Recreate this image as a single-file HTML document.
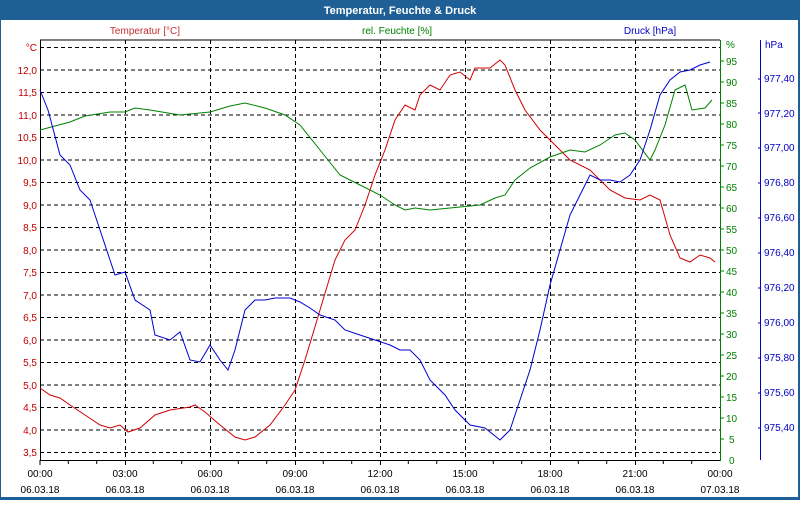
<!DOCTYPE html>
<html><head><meta charset="utf-8"><style>
body{margin:0;width:800px;height:500px;overflow:hidden;background:#fff;font-family:"Liberation Sans",sans-serif}
</style></head><body>
<svg width="800" height="500" xmlns="http://www.w3.org/2000/svg" font-family="Liberation Sans, sans-serif" font-size="10">
<rect x="0" y="0" width="800" height="500" fill="#1e5f96"/>
<rect x="1" y="20" width="797" height="477" fill="#fff"/>
<text x="400" y="14" fill="#fff" font-weight="bold" font-size="11" text-anchor="middle">Temperatur, Feuchte &amp; Druck</text>
<text x="145" y="34" fill="#c03030" text-anchor="middle">Temperatur [°C]</text>
<text x="397" y="34" fill="#008000" text-anchor="middle">rel. Feuchte [%]</text>
<text x="650" y="34" fill="#0000c0" text-anchor="middle">Druck [hPa]</text>
<g stroke="#000" stroke-dasharray="4,3" stroke-width="1">
<line x1="40" y1="47.5" x2="720" y2="47.5"/><line x1="40" y1="70" x2="720" y2="70"/><line x1="40" y1="92.5" x2="720" y2="92.5"/><line x1="40" y1="115" x2="720" y2="115"/><line x1="40" y1="137.5" x2="720" y2="137.5"/><line x1="40" y1="160" x2="720" y2="160"/><line x1="40" y1="182.5" x2="720" y2="182.5"/><line x1="40" y1="205" x2="720" y2="205"/><line x1="40" y1="227.5" x2="720" y2="227.5"/><line x1="40" y1="250" x2="720" y2="250"/><line x1="40" y1="272.5" x2="720" y2="272.5"/><line x1="40" y1="295" x2="720" y2="295"/><line x1="40" y1="317.5" x2="720" y2="317.5"/><line x1="40" y1="340" x2="720" y2="340"/><line x1="40" y1="362.5" x2="720" y2="362.5"/><line x1="40" y1="385" x2="720" y2="385"/><line x1="40" y1="407.5" x2="720" y2="407.5"/><line x1="40" y1="430" x2="720" y2="430"/><line x1="40" y1="452.5" x2="720" y2="452.5"/>
<line x1="125.5" y1="40" x2="125.5" y2="460"/><line x1="210.5" y1="40" x2="210.5" y2="460"/><line x1="295.5" y1="40" x2="295.5" y2="460"/><line x1="380.5" y1="40" x2="380.5" y2="460"/><line x1="465.5" y1="40" x2="465.5" y2="460"/><line x1="550.5" y1="40" x2="550.5" y2="460"/><line x1="635.5" y1="40" x2="635.5" y2="460"/>
</g>
<line x1="40" y1="40" x2="720" y2="40" stroke="#000"/>
<line x1="40.5" y1="40" x2="40.5" y2="460" stroke="#000"/>
<line x1="40" y1="460.5" x2="720" y2="460.5" stroke="#000"/>
<line x1="720.5" y1="40" x2="720.5" y2="461" stroke="#008000"/>
<line x1="760.5" y1="40" x2="760.5" y2="460" stroke="#0000c0"/>
<g stroke="#000">
<path d="M40 460v5M68.3 460v4M96.7 460v4M125.5 460v5M153.3 460v4M181.7 460v4M210.5 460v5M238.3 460v4M266.7 460v4M295.5 460v5M323.3 460v4M351.7 460v4M380.5 460v5M408.3 460v4M436.7 460v4M465.5 460v5M493.3 460v4M521.7 460v4M550.5 460v5M578.3 460v4M606.7 460v4M635.5 460v5M663.3 460v4M691.7 460v4"/>
</g>
<g fill="#000" text-anchor="middle">
<text x="40" y="477">00:00</text><text x="40" y="493">06.03.18</text>
<text x="125" y="477">03:00</text><text x="125" y="493">06.03.18</text>
<text x="210" y="477">06:00</text><text x="210" y="493">06.03.18</text>
<text x="295" y="477">09:00</text><text x="295" y="493">06.03.18</text>
<text x="380" y="477">12:00</text><text x="380" y="493">06.03.18</text>
<text x="465" y="477">15:00</text><text x="465" y="493">06.03.18</text>
<text x="550" y="477">18:00</text><text x="550" y="493">06.03.18</text>
<text x="635" y="477">21:00</text><text x="635" y="493">06.03.18</text>
<text x="720" y="477">00:00</text><text x="720" y="493">07.03.18</text>
</g>
<g fill="#c00000" text-anchor="end">
<text x="37" y="51">°C</text><text x="37" y="74">12,0</text><text x="37" y="96">11,5</text><text x="37" y="119">11,0</text><text x="37" y="141">10,5</text><text x="37" y="164">10,0</text><text x="37" y="186">9,5</text><text x="37" y="209">9,0</text><text x="37" y="231">8,5</text><text x="37" y="254">8,0</text><text x="37" y="276">7,5</text><text x="37" y="299">7,0</text><text x="37" y="321">6,5</text><text x="37" y="344">6,0</text><text x="37" y="366">5,5</text><text x="37" y="389">5,0</text><text x="37" y="411">4,5</text><text x="37" y="434">4,0</text><text x="37" y="456">3,5</text>
</g>
<g fill="#008000">
<text x="726" y="48">%</text><text x="726" y="65">95</text><text x="726" y="86">90</text><text x="726" y="107">85</text><text x="726" y="128">80</text><text x="726" y="149">75</text><text x="726" y="170">70</text><text x="726" y="191">65</text><text x="726" y="212">60</text><text x="726" y="233">55</text><text x="726" y="254">50</text><text x="726" y="275">45</text><text x="726" y="296">40</text><text x="726" y="317">35</text><text x="726" y="338">30</text><text x="726" y="359">25</text><text x="726" y="380">20</text><text x="726" y="401">15</text><text x="726" y="422">10</text><text x="729" y="443">5</text><text x="729" y="464">0</text>
</g>
<path d="M721 61h3M721 82h3M721 103h3M721 124h3M721 145h3M721 166h3M721 187h3M721 208h3M721 229h3M721 250h3M721 271h3M721 292h3M721 313h3M721 334h3M721 355h3M721 376h3M721 397h3M721 418h3M721 439h3" stroke="#008000"/>
<g fill="#0000c0">
<text x="765" y="48">hPa</text>
<text x="764" y="82">977,40</text><text x="764" y="117">977,20</text><text x="764" y="151">977,00</text><text x="764" y="186">976,80</text><text x="764" y="221">976,60</text><text x="764" y="256">976,40</text><text x="764" y="291">976,20</text><text x="764" y="326">976,00</text><text x="764" y="361">975,80</text><text x="764" y="396">975,60</text><text x="764" y="431">975,40</text>
</g>
<path d="M758 79h3M758 113h3M758 148h3M758 183h3M758 218h3M758 253h3M758 288h3M758 323h3M758 358h3M758 393h3M758 428h3" stroke="#0000c0"/>
<polyline fill="none" stroke="#d00000" stroke-width="1" points="40,388 50,395 60,398 70,405 85,415 100,425 110,428 120,425 128,432 140,428 155,415 170,410 190,407 195,405 205,412 220,425 235,437 245,440 255,437 270,425 285,405 295,390 305,360 320,310 335,260 345,240 355,230 365,205 375,175 385,150 395,120 405,105 415,110 420,95 430,85 440,90 450,75 460,72 470,80 475,68 490,68 500,60 505,65 515,90 525,110 540,130 555,145 570,160 590,170 610,190 625,198 640,200 650,195 660,200 670,235 680,258 690,262 700,255 710,258 715,262"/>
<polyline fill="none" stroke="#008000" stroke-width="1" points="40,130 55,126 70,122 85,116 110,112 125,112 135,108 150,110 180,115 210,112 230,106 245,103 265,108 285,115 300,125 320,150 340,175 360,185 380,195 395,205 405,210 415,208 430,210 460,207 480,205 495,198 505,195 515,180 530,168 550,157 570,150 585,152 600,145 615,135 625,133 635,140 650,160 655,150 665,125 675,90 685,85 692,110 705,108 712,100"/>
<polyline fill="none" stroke="#0000d0" stroke-width="1" points="40,90 48,110 60,155 70,165 80,190 90,200 100,230 110,260 115,275 125,272 135,300 150,310 155,335 170,340 180,332 190,360 200,362 210,345 220,360 228,370 235,350 245,310 255,300 265,300 275,298 290,298 300,302 310,308 320,315 335,320 345,330 360,335 375,340 390,345 400,350 410,350 420,360 430,380 445,395 455,410 470,425 485,428 500,440 510,430 520,400 530,370 540,330 550,285 560,250 570,215 580,195 590,175 600,180 610,180 620,182 630,175 640,160 650,130 660,95 670,80 680,72 690,70 700,65 710,62"/>
</svg>
</body></html>
